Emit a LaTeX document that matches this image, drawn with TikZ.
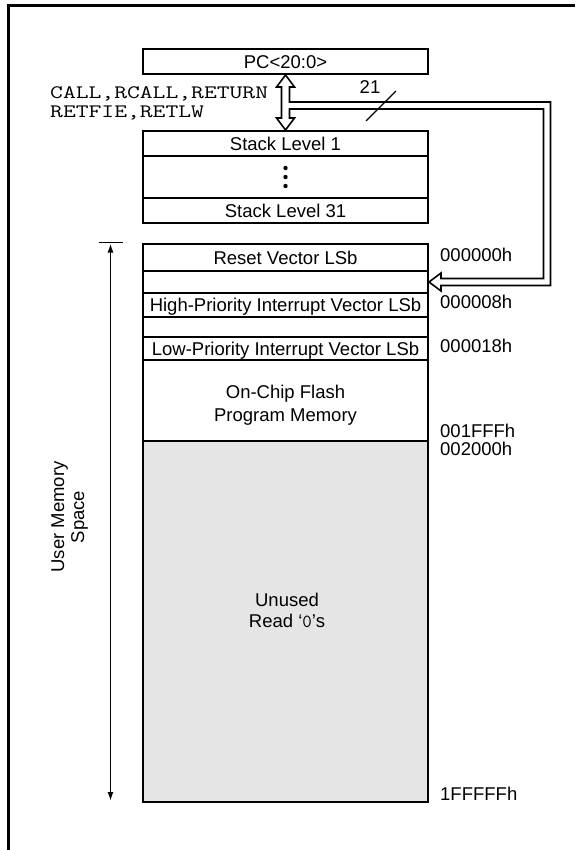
\documentclass[tikz,border=0pt]{standalone}
\usepackage{fontspec}
\usepackage{graphicx}
\setmainfont{Liberation Sans}
\usetikzlibrary{calc,arrows.meta}
\definecolor{unusedgray}{HTML}{E5E5E5}
\newcommand{\codetext}[1]{\scalebox{1.31}[1]{\ttfamily\fontsize{19}{19}\selectfont #1}}
\begin{document}
\begin{tikzpicture}[x=1pt,y=-1pt,
  box/.style={draw,line width=2pt,minimum width=285pt,inner sep=0pt,
    font=\fontsize{18.5}{22}\selectfont,text height=13.2pt,text depth=0pt},
  lbl/.style={inner sep=0pt,align=center},
  addr/.style={anchor=west,inner sep=0pt,font=\fontsize{18.5}{22}\selectfont},
  code/.style={anchor=base west,inner sep=0pt},
  pipe/.style={draw,line width=1.6pt,fill=white,line join=miter},
  umtip/.tip={Latex[length=9pt,width=6pt]}]
\useasboundingbox (0,0) rectangle (575,850);
% frame
\draw[line width=2.2pt] (8.5,850) -- (8.5,5.5) -- (575,5.5);
% PC and stack
\node[box,minimum height=25pt] (pc) at (285.5,61.5) {PC<20:0>};
\node[box,minimum height=25pt] (s1) at (285.5,143.5) {Stack Level 1};
\node[box,minimum height=42pt] (sd) at (285.5,177) {};
\node[box,minimum height=25pt] (s31) at (285.5,210.5) {Stack Level 31};
\foreach \d in {-9,0,9} \fill ($(sd.center)+(0,\d)$) circle (2.2pt);
% memory map
\node[box,minimum height=27pt] (m0) at (285.5,257.5) {Reset Vector LSb};
\node[box,minimum height=22pt] (m1) at (285.5,282) {};
\node[box,minimum height=24pt] (m2) at (285.5,305) {High-Priority Interrupt Vector LSb};
\node[box,minimum height=20pt] (m3) at (285.5,327) {};
\node[box,minimum height=23pt] (m4) at (285.5,348.5) {Low-Priority Interrupt Vector LSb};
\node[box,minimum height=81pt] (m5) at (285.5,400.5) {};
\node[box,minimum height=361pt,fill=unusedgray] (m6) at (285.5,621.5) {};
\node[lbl,font=\fontsize{18.5}{23}\selectfont] (flashlbl) at (285.5,405) {On-Chip Flash\\Program Memory};
\node[lbl,font=\fontsize{18.5}{20.8}\selectfont] (unusedlbl) at (287,610.3) {Unused\\Read ‘{\ttfamily 0}’s};
% addresses
\node[addr] (a0) at (440,254.5) {000000h};
\node[addr] (a8) at (440,302) {000008h};
\node[addr] (a18) at (440,345.7) {000018h};
\node[addr] (a1fff) at (440,430.5) {001FFFh};
\node[addr] (a2000) at (440,449) {002000h};
\node[addr] (aend) at (440,793.3) {1FFFFFh};
% instruction labels
\node[code] (call1) at (50,98.3) {\codetext{CALL,RCALL,RETURN}};
\node[code] (call2) at (50,117.3) {\codetext{RETFIE,RETLW}};
% hollow double arrow and 21-bit bus
\coordinate (P) at (pc.south);
\coordinate (S) at (s1.north);
\coordinate (M) at (m1.east);
\coordinate (pr) at (547,105.5);
\draw[pipe] (P) -- ++(9,12) -- ++(-5,0) |- ($(pr)+(3.5,-3.5)$)
  |- ($(M)+(12,3.5)$) -- ++(0,5.5) -- (M) -- ++(12,-9) -- ++(0,5.5)
  -| ($(pr)+(-3.5,3.5)$) -| ($(S)+(4,-12)$) -- ++(5,0) -- (S)
  -- ++(-9,-12) -- ++(5,0) -- ($(P)+(-4,12)$) -- ++(-5,0) -- cycle;
\node[inner sep=0pt,font=\fontsize{18.5}{22}\selectfont] (bw) at (370,87.5) {21};
\coordinate (sl1) at (366,121);
\coordinate (sl2) at (396,91);
\draw[line width=1.2pt] (sl1) -- (sl2);
% user memory space
\coordinate (umtop) at (110.5,243.5);
\coordinate (umbot) at (110.5,801);
\draw[line width=1.6pt] ($(umtop)+(-12,-1)$) -- ($(umtop)+(12,-1)$);
\draw[line width=1.6pt,umtip-umtip] (umtop) -- (umbot);
\node[lbl,rotate=90,font=\fontsize{18.5}{20}\selectfont] (ums) at (69.8,517) {User Memory\\Space};
\end{tikzpicture}
\end{document}
